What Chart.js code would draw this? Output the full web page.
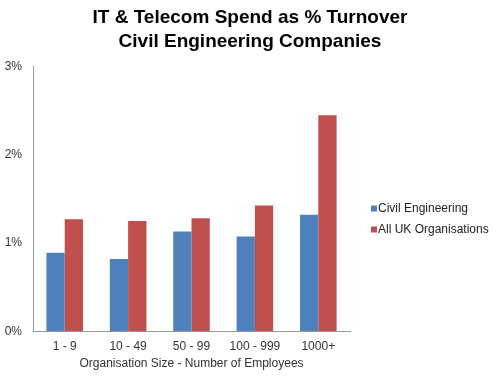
<!DOCTYPE html>
<html>
<head>
<meta charset="utf-8">
<script src="https://cdn.jsdelivr.net/npm/chart.js@4.4.1/dist/chart.umd.min.js"></script>
<style>
html,body{margin:0;padding:0;background:#fff;}
#wrap{width:500px;height:380px;}
</style>
</head>
<body>
<div id="wrap"><canvas id="c" width="500" height="380"></canvas></div>
<script>
const categories = ["1 - 9", "10 - 49", "50 - 99", "100 - 999", "1000+"];
const civilEngineering = [0.89, 0.82, 1.13, 1.075, 1.32];
const allUK = [1.27, 1.25, 1.28, 1.425, 2.45];
const yTicks = [0, 1, 2, 3];

const FONT = "'Liberation Sans', Arial, sans-serif";

// Legend drawn next to the plot, from the chart's own datasets
const sideLegend = {
  id: 'sideLegend',
  afterDraw(chart) {
    const ctx = chart.ctx;
    const x0 = 371, yStart = 208.5, step = 21;
    ctx.save();
    ctx.font = '12px ' + FONT;
    ctx.textBaseline = 'middle';
    ctx.textAlign = 'left';
    chart.data.datasets.forEach((ds, i) => {
      const y = yStart + i * step;
      ctx.fillStyle = ds.backgroundColor;
      ctx.fillRect(x0, y - 3, 6, 6);
      ctx.fillStyle = '#222';
      ctx.fillText(ds.label, x0 + 7, y);
    });
    ctx.restore();
  }
};

new Chart(document.getElementById('c'), {
  type: 'bar',
  data: {
    labels: categories,
    datasets: [
      { label: 'Civil Engineering', data: civilEngineering, backgroundColor: '#4F81BD' },
      { label: 'All UK Organisations', data: allUK, backgroundColor: '#C0504D' }
    ]
  },
  plugins: [sideLegend],
  options: {
    responsive: false,
    animation: false,
    devicePixelRatio: 1,
    layout: { padding: { left: 0, right: 0, top: 6, bottom: 9 } },
    datasets: { bar: { categoryPercentage: 0.577, barPercentage: 1.0 } },
    plugins: {
      title: {
        display: true,
        text: ['IT & Telecom Spend as % Turnover', 'Civil Engineering Companies'],
        font: { family: FONT, size: 19, weight: 'bold', lineHeight: 1.27 },
        color: '#000',
        padding: { top: 0, bottom: 12.5 }
      },
      legend: { display: false },
      tooltip: { enabled: false }
    },
    scales: {
      x: {
        grid: { display: false, drawTicks: false },
        border: { display: true, color: '#9a9a9a', width: 1 },
        ticks: { font: { family: FONT, size: 12 }, color: '#333', padding: 8 },
        title: {
          display: true,
          text: 'Organisation Size - Number of Employees',
          font: { family: FONT, size: 12 },
          color: '#333',
          padding: { top: -5, bottom: 0 }
        }
      },
      y: {
        min: 0,
        max: 3,
        afterBuildTicks: (axis) => { axis.ticks = yTicks.map(v => ({ value: v })); },
        afterFit: (axis) => { axis.width = 33; },
        grid: { display: false, drawTicks: false },
        border: { display: true, color: '#9a9a9a', width: 1 },
        ticks: {
          font: { family: FONT, size: 12 },
          color: '#333',
          padding: 11,
          callback: (v) => v + '%'
        }
      },
      legendSpace: {
        type: 'linear',
        position: 'right',
        min: 0,
        max: 1,
        afterFit: (axis) => { axis.width = 150; },
        grid: { display: false, drawTicks: false },
        border: { display: false },
        ticks: { display: false }
      }
    }
  }
});
</script>
</body>
</html>
